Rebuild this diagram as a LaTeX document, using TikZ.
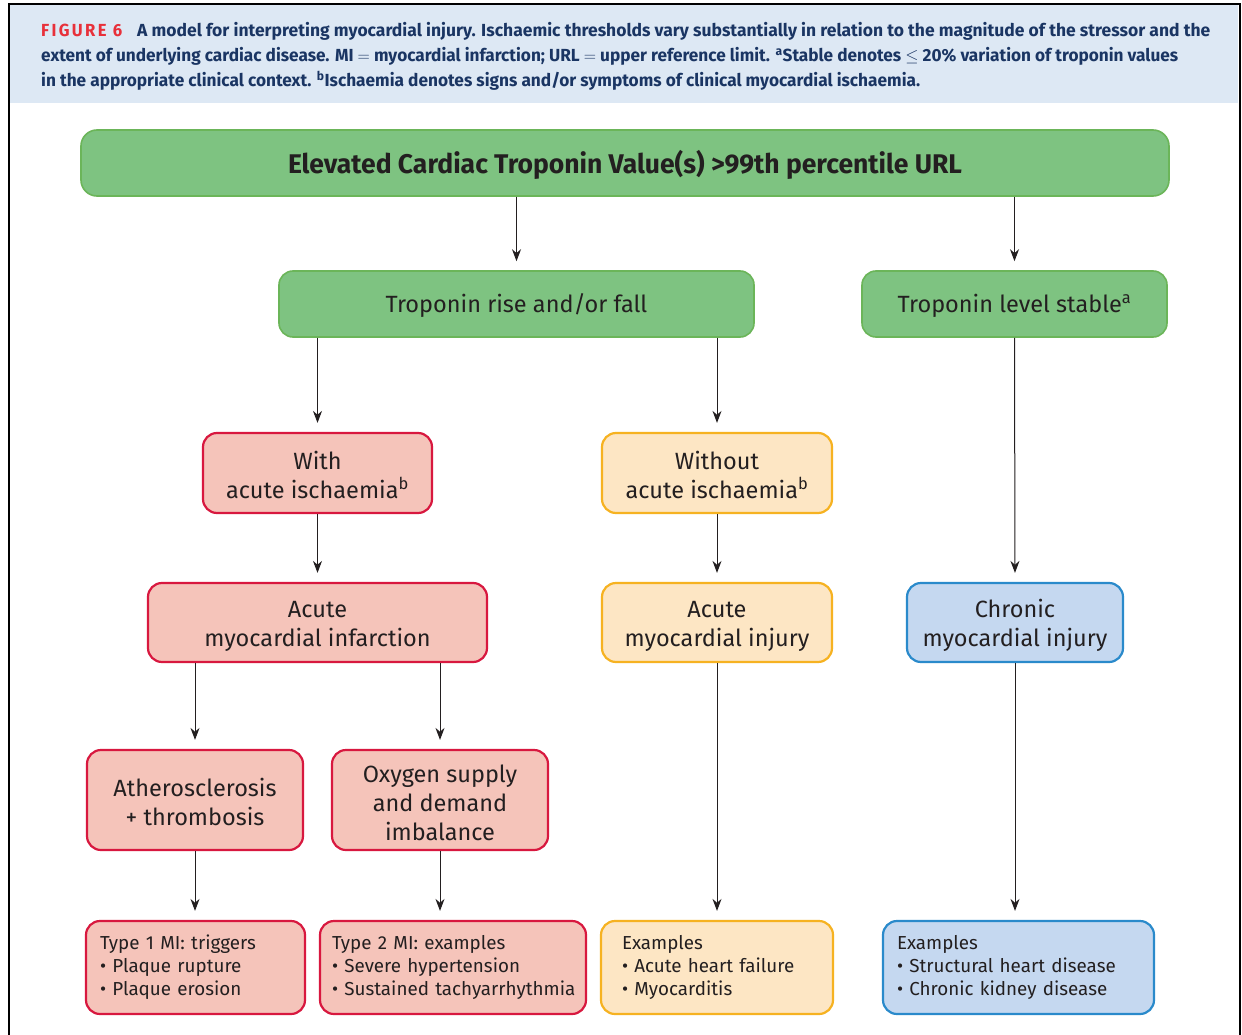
\documentclass[tikz,border=0pt]{standalone}
\usepackage{fontspec}
\usepackage{graphicx}
\setmainfont{Fira Sans}
\newfontfamily\capfont{Fira Sans}
\usetikzlibrary{arrows.meta}
\definecolor{capbg}{HTML}{DDE8F4}
\definecolor{capnavy}{HTML}{1A3563}
\definecolor{figred}{HTML}{E8303A}
\definecolor{txt}{HTML}{231F20}
\definecolor{gfill}{HTML}{7EC381}
\definecolor{gdraw}{HTML}{6BB559}
\definecolor{rfill}{HTML}{F5C4BA}
\definecolor{rdraw}{HTML}{D8183F}
\definecolor{ofill}{HTML}{FDE6C4}
\definecolor{odraw}{HTML}{F6B221}
\definecolor{bfill}{HTML}{C5D8F0}
\definecolor{bdraw}{HTML}{2A8ACB}
\newcommand\tup{\rule{0pt}{23pt}}
\newcommand\bl[1]{\mbox{\textbullet\ #1}}
\tikzset{
  box/.style={draw, rounded corners=14pt, line width=2.2pt, align=center, text=txt,
    font=\fontsize{23.5}{29}\selectfont, inner sep=0pt},
  gbox/.style={box, fill=gfill, draw=gdraw, line width=1.6pt},
  rbox/.style={box, fill=rfill, draw=rdraw},
  obox/.style={box, fill=ofill, draw=odraw},
  bbox/.style={box, fill=bfill, draw=bdraw},
  exbox/.style={align=left, font=\fontsize{18.8}{23}\selectfont},
  arr/.style={-{Stealth[length=12pt,width=9pt]}, line width=1pt, draw=txt, shorten >=9pt},
  capline/.style={anchor=base west, text=capnavy, inner sep=0pt, font=\capfont\bfseries\fontsize{17.5}{20}\selectfont}
}
\begin{document}
\begin{tikzpicture}[x=1pt,y=-1pt]
\useasboundingbox (0,0) rectangle (1242,1035);
\fill[white] (0,0) rectangle (1242,1035);
\fill[capbg] (10,5) rectangle (1238,103);
\draw[line width=2.5pt] (9,1035) -- (9,4) -- (1240,4) -- (1240,1035);

% caption
\node[capline, text=figred] (figlab) at (41,37) {\resizebox{81pt}{\height}{\addfontfeature{LetterSpace=14}FIGURE 6}};
\node[capline] (cap1) at (137,37) {\resizebox{1073pt}{\height}{A model for interpreting myocardial injury. Ischaemic thresholds vary substantially in relation to the magnitude of the stressor and the}};
\node[capline] (cap2) at (41,62) {\resizebox{1137pt}{\height}{extent of underlying cardiac disease. MI $=$ myocardial infarction; URL $=$ upper reference limit. \textsuperscript{a}Stable denotes $\leq$ 20\% variation of troponin values}};
\node[capline] (cap3) at (41,87) {\resizebox{879pt}{\height}{in the appropriate clinical context. \textsuperscript{b}Ischaemia denotes signs and/or symptoms of clinical myocardial ischaemia.}};

% boxes
\node[gbox, rounded corners=16pt, minimum width=1088pt, minimum height=66pt] (top) at (625,163)
  {\rule{0pt}{27pt}\fontsize{27}{32}\selectfont\bfseries\resizebox{674pt}{\height}{Elevated Cardiac Troponin Value(s) >99th percentile URL}};
\node[gbox, minimum width=475pt, minimum height=66pt] (rise) at (516.5,304) {\tup Troponin rise and/or fall};
\node[gbox, minimum width=305pt, minimum height=66pt] (stable) at (1014.5,304) {\tup Troponin level stable\textsuperscript{a}};

\node[rbox, minimum width=229pt, minimum height=80pt] (with) at (317.5,473) {\tup With\\acute ischaemia\textsuperscript{b}};
\node[obox, minimum width=230pt, minimum height=80pt] (without) at (717,473) {\tup Without\\acute ischaemia\textsuperscript{b}};

\node[rbox, minimum width=339pt, minimum height=79pt] (ami) at (317.5,622.5) {\tup Acute\\myocardial infarction};
\node[obox, minimum width=230pt, minimum height=79pt] (inj) at (717,622.5) {\tup Acute\\myocardial injury};
\node[bbox, minimum width=216pt, minimum height=79pt] (chr) at (1015,622.5) {\tup Chronic\\myocardial injury};

\node[rbox, minimum width=216pt, minimum height=100pt] (ath) at (195,800) {\tup Atherosclerosis\\+ thrombosis};
\node[rbox, minimum width=216pt, minimum height=100pt] (oxy) at (440,800) {\tup Oxygen supply\\and demand\\imbalance};

\node[rbox, exbox, minimum width=219pt, minimum height=93pt, inner xsep=14pt, text width=191pt] (t1) at (195.5,967.5)
  {\mbox{Type 1 MI: triggers}\\\bl{Plaque rupture}\\\bl{Plaque erosion}};
\node[rbox, exbox, minimum width=266pt, minimum height=93pt, inner xsep=12pt, text width=242pt] (t2) at (453,967.5)
  {\mbox{Type 2 MI: examples}\\\bl{Severe hypertension}\\\bl{Sustained tachyarrhythmia}};
\node[obox, exbox, minimum width=232pt, minimum height=93pt, inner xsep=21pt, text width=190pt] (ex1) at (717,967.5)
  {Examples\\\bl{Acute heart failure}\\\bl{Myocarditis}};
\node[bbox, exbox, minimum width=271pt, minimum height=93pt, inner xsep=14pt, text width=243pt] (ex2) at (1018.5,967.5)
  {Examples\\\bl{Structural heart disease}\\\bl{Chronic kidney disease}};

% connectors
\draw[arr] (top.south -| rise.north) -- (rise.north);
\draw[arr] (top.south -| stable.north) -- (stable.north);
\draw[arr] (rise.south -| with.north) -- (with.north);
\draw[arr] (rise.south -| without.north) -- (without.north);
\draw[arr] (stable.south) -- (chr.north);
\draw[arr] (with.south) -- (ami.north);
\draw[arr] (without.south) -- (inj.north);
\draw[arr] (ami.south -| ath.north) -- (ath.north);
\draw[arr] (ami.south -| oxy.north) -- (oxy.north);
\draw[arr] (inj.south) -- (ex1.north);
\draw[arr] (chr.south) -- (chr.south |- ex2.north);
\draw[arr] (ath.south) -- (ath.south |- t1.north);
\draw[arr] (oxy.south) -- (oxy.south |- t2.north);
\end{tikzpicture}
\end{document}
